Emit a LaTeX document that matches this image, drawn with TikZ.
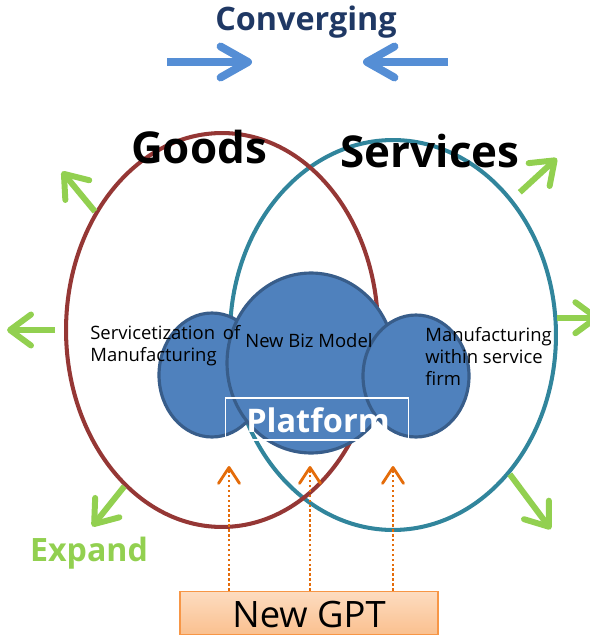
\documentclass[tikz,border=0pt]{standalone}
\usepackage{fontspec}
\setmainfont{Open Sans}
\usetikzlibrary{arrows.meta,shapes.geometric}
\definecolor{goodsred}{HTML}{953735}
\definecolor{servteal}{HTML}{31859C}
\definecolor{blobfill}{HTML}{4F81BD}
\definecolor{blobline}{HTML}{385D8A}
\definecolor{convblue}{HTML}{558ED5}
\definecolor{convnavy}{HTML}{1F3864}
\definecolor{expandgreen}{HTML}{92D050}
\definecolor{gptorange}{HTML}{E46C0A}
\definecolor{gptline}{HTML}{F79646}
\definecolor{gpttop}{HTML}{FDDCC0}
\definecolor{gptbottom}{HTML}{FAC08F}

\begin{document}
\begin{tikzpicture}[x=0.02cm, y=-0.02cm,
ring/.style = {draw, ellipse, line width=2.3pt, inner sep=0pt},
blob/.style = {draw=blobline, fill=blobfill, ellipse, line width=1.8pt, inner sep=0pt},
bigword/.style = {font=\bfseries\fontsize{25}{30}\selectfont, inner sep=0pt},
smalltext/.style = {font=\fontsize{10.5}{12.5}\selectfont, align=left, inner sep=0pt},
converge/.style = {draw=convblue, line width=4.5pt, -{Straight Barb[round, length=0.55cm, width=0.62cm]}},
expand/.style = {draw=expandgreen, line width=3.4pt, -{Straight Barb[round, length=0.42cm, width=0.62cm]}},
gptarrow/.style = {draw=gptorange, line width=1.6pt, dash pattern=on 1.4pt off 1.4pt, -{Straight Barb[round, length=0.32cm, width=0.42cm]}}
]
\useasboundingbox (0,0) rectangle (589,639);

% title and converging arrows
\node[font=\bfseries\fontsize{18.4}{22}\selectfont, text=convnavy, inner sep=0pt] (conv) at (306,22) {Converging};
\coordinate (convL) at (167,62);
\coordinate (convR) at (448,62);
\coordinate (convLtip) at (252,62);
\coordinate (convRtip) at (363,62);
\draw[converge] (convL) -- (convLtip);
\draw[converge] (convR) -- (convRtip);

% the two rings
\node[ring, draw=servteal, minimum width=6.52cm, minimum height=7.8cm] (services) at (393,335) {};
\node[ring, draw=goodsred, minimum width=6.24cm, minimum height=7.88cm] (goods) at (222,330) {};

\node[bigword, anchor=base] (goodslbl) at (199,163) {Goods};
\node[bigword, anchor=base] (serviceslbl) at (430,167) {Services};

% blobs
\node[blob, minimum width=2.12cm, minimum height=2.48cm] (servitize) at (212,375) {};
\node[blob, minimum width=3.36cm, minimum height=3.6cm] (bizmodel) at (311,363) {};
\node[blob, minimum width=2.12cm, minimum height=2.44cm] (manuf) at (416,376) {};

\node[smalltext, anchor=west] (servtext) at (90,346) {Servicetization\, of\\Manufacturing};
\node[smalltext, anchor=west] (biztext) at (245,341) {New Biz Model};
\node[smalltext, anchor=west] (manuftext) at (425,356) {Manufacturing\\within service\\firm};

\node[draw=white, line width=1pt, minimum width=3.66cm, minimum height=0.84cm, inner sep=0pt] (platform) at (317,419) {};
\node[font=\bfseries\fontsize{18.5}{22}\selectfont, text=white, anchor=base, inner sep=0pt] (platformtext) at (318,432) {Platform};

% expand arrows
\draw[expand] (goods.137) -- ++(-33,-40);
\draw[expand] ([xshift=-0.18cm]goods.180) -- ++(-48,0);
\draw[expand] (goods.238) -- ++(-32,40);
\draw[expand] ([shift={(8,-6)}]services.49) -- ++(37,-34);
\draw[expand] (services.6) -- ++(42,0);
\draw[expand] (services.310) -- ++(41,55);
\node[font=\bfseries\fontsize{18.3}{22}\selectfont, text=expandgreen, anchor=base, inner sep=0pt] (expandlbl) at (89,561) {Expand};

% new GPT
\node[draw=gptline, line width=1pt, top color=gpttop, bottom color=gptbottom, minimum width=5.16cm, minimum height=0.86cm, inner sep=0pt] (gpt) at (309,613) {};
\node[font=\fontsize{20.7}{24}\selectfont, anchor=base, inner sep=0pt] (gpttext) at (309,627) {New GPT};
\foreach \x/\n in {229/a,310/b,393/c}{
  \coordinate (tip\n) at (\x,466);
  \draw[gptarrow] (gpt.north -| tip\n) -- (tip\n);
}
\end{tikzpicture}
\end{document}
